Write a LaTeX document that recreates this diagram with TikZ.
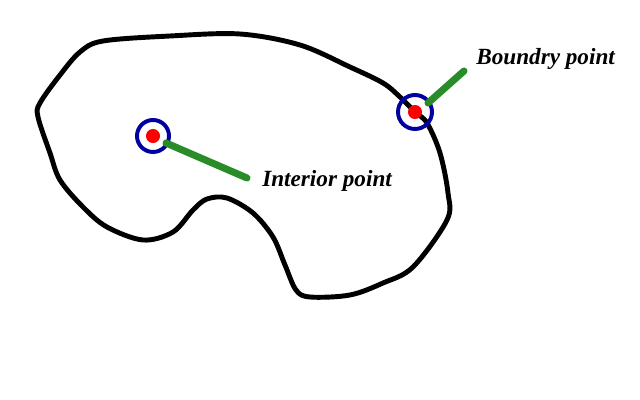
\documentclass[tikz,border=0pt]{standalone}
\usepackage{fontspec}
\setmainfont{Liberation Serif}
\begin{document}
\begin{tikzpicture}[x=0.025cm,y=-0.025cm,
  outline/.style={line width=3.5pt,black,line join=round},
  ring/.style={line width=2.8pt,draw={rgb,255:red,0;green,0;blue,160}},
  dot/.style={circle,fill=red,inner sep=0,minimum size=10pt},
  leader/.style={line width=5pt,draw={rgb,255:red,40;green,140;blue,40},line cap=round},
  lbl/.style={font=\fontsize{16.5}{20}\selectfont\bfseries\itshape,inner sep=0,anchor=base west}]
\useasboundingbox (0,0) rectangle (640,400);
\fill[white] (0,0) rectangle (640,400);
\draw[outline] plot[smooth cycle,tension=0.55] coordinates {
 (103,41) (170,36) (240,34) (300,45) (350,67) (383,83) (400,97) (415,112)
 (427,123) (440,153) (448,193) (447,220) (413,267) (383,283) (350,295)
 (310,297) (296,290) (285,265) (273,237) (253,213) (227,198) (207,199)
 (193,210) (173,232) (143,240) (107,227) (83,207) (60,180) (50,153)
 (38,117) (40,103) (60,75) (80,52)};
% interior point
\node[dot] (ip) at (153,136) {};
\draw[ring] (ip.center) circle[radius=16];
\node[lbl] (it) at (262,187) {Interior point};
\coordinate (ia) at (166,143);
\coordinate (ib) at (247,178);
\draw[leader] (ia) -- (ib);
% boundary point
\node[dot] (bp) at (415,112) {};
\draw[ring] (bp.center) circle[radius=17];
\node[lbl] (bt) at (476,65) {Boundry point};
\coordinate (ba) at (428,103);
\coordinate (bb) at (464,71);
\draw[leader] (ba) -- (bb);
\end{tikzpicture}
\end{document}
